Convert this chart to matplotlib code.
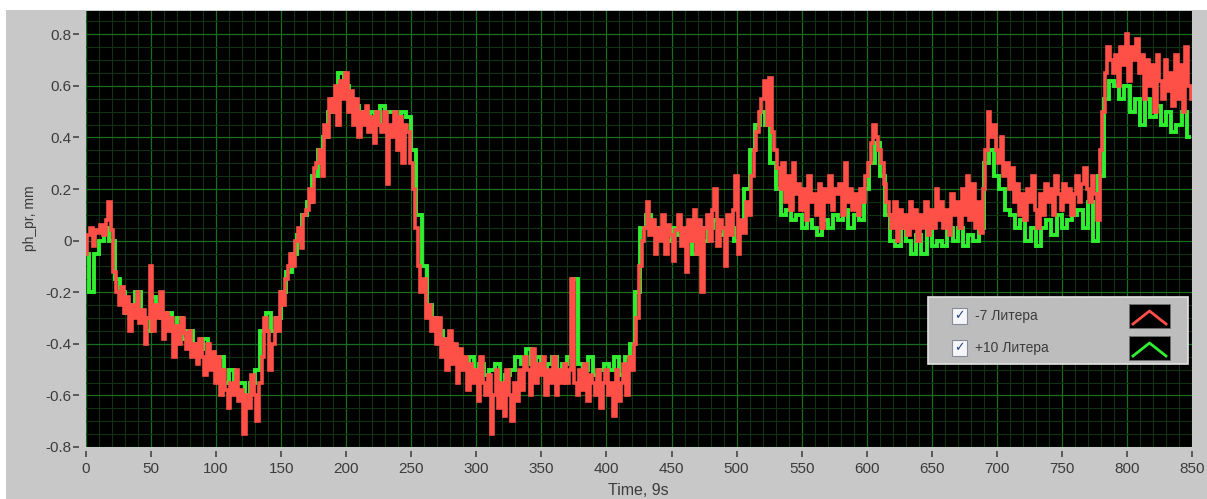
"""
Plot ph_pr displacement traces for -7 and +10 Litera (LabVIEW-style chart).
Usage: python plot.py
"""
import matplotlib
matplotlib.use("Agg")
import matplotlib.pyplot as plt
from matplotlib.patches import Rectangle
from matplotlib.ticker import MultipleLocator
import numpy as np


# sample interval of each series (in chart time units)
RED_STEP = 2
GREEN_STEP = 4

SERIES_LABELS = ["-7 Литера", "+10 Литера"]

# -7 Litera, one value every 2 units, 0..850
RED_VALUES = [
    -0.05, 0.02, 0.05, -0.02, 0.04,   0.03, 0.06, 0.02, 0.08, 0.15,
    0.04, -0.12, -0.2, -0.25, -0.18,  -0.28, -0.22, -0.35, -0.25, -0.3,
    -0.2, -0.32, -0.27, -0.4, -0.3,   -0.1, -0.35, -0.25, -0.3, -0.2,
    -0.38, -0.28, -0.35, -0.3, -0.45, -0.33, -0.4, -0.3, -0.36, -0.42,
    -0.35, -0.45, -0.4, -0.48, -0.38, -0.45, -0.52, -0.4, -0.5, -0.43,
    -0.55, -0.45, -0.6, -0.5, -0.58,  -0.65, -0.55, -0.6, -0.5, -0.62,
    -0.58, -0.75, -0.6, -0.65, -0.52, -0.6, -0.7, -0.55, -0.45, -0.3,
    -0.35, -0.5, -0.4, -0.3, -0.35,   -0.2, -0.25, -0.15, -0.1, -0.05,
    -0.1, 0.0, 0.05, -0.03, 0.1,      0.12, 0.2, 0.15, 0.28, 0.3,
    0.35, 0.25, 0.45, 0.4, 0.55,      0.5, 0.6, 0.45, 0.62, 0.55,
    0.65, 0.5, 0.58, 0.45, 0.55,      0.4, 0.5, 0.45, 0.52, 0.42,
    0.48, 0.38, 0.5, 0.45, 0.42,      0.5, 0.22, 0.45, 0.4, 0.5,
    0.35, 0.48, 0.3, 0.45, 0.42,      0.3, 0.2, 0.05, -0.1, -0.2,
    -0.15, -0.3, -0.25, -0.35, -0.3,  -0.4, -0.3, -0.45, -0.38, -0.5,
    -0.35, -0.48, -0.4, -0.55, -0.42, -0.5, -0.45, -0.58, -0.48, -0.55,
    -0.5, -0.62, -0.45, -0.55, -0.6,  -0.52, -0.75, -0.6, -0.5, -0.65,
    -0.55, -0.68, -0.5, -0.6, -0.7,   -0.55, -0.62, -0.5, -0.58, -0.45,
    -0.5, -0.6, -0.42, -0.55, -0.48,  -0.52, -0.45, -0.6, -0.5, -0.55,
    -0.45, -0.6, -0.5, -0.55, -0.48,  -0.55, -0.5, -0.15, -0.55, -0.6,
    -0.5, -0.58, -0.48, -0.62, -0.52, -0.55, -0.6, -0.5, -0.65, -0.55,
    -0.5, -0.6, -0.55, -0.68, -0.5,   -0.62, -0.55, -0.48, -0.6, -0.45,
    -0.5, -0.4, -0.3, -0.1, 0.0,      0.05, 0.15, 0.02, 0.08, -0.05,
    0.05, 0.0, 0.1, -0.05, 0.06,      0.02, -0.08, 0.04, 0.1, -0.02,
    0.05, -0.12, 0.08, 0.0, 0.12,     -0.05, 0.08, -0.2, 0.05, 0.1,
    0.0, 0.12, 0.2, -0.02, 0.08,      0.05, -0.1, 0.1, 0.02, 0.12,
    0.25, -0.05, 0.08, 0.03, 0.15,    0.1, 0.25, 0.35, 0.42, 0.5,
    0.55, 0.62, 0.45, 0.63, 0.42,     0.35, 0.28, 0.2, 0.3, 0.15,
    0.25, 0.12, 0.3, 0.18, 0.22,      0.12, 0.2, 0.08, 0.25, 0.15,
    0.18, 0.1, 0.22, 0.05, 0.2,       0.15, 0.25, 0.12, 0.2, 0.18,
    0.22, 0.1, 0.3, 0.15, 0.2,        0.12, 0.18, 0.1, 0.2, 0.15,
    0.25, 0.3, 0.38, 0.45, 0.4,       0.35, 0.3, 0.22, 0.15, 0.1,
    0.05, 0.15, 0.0, 0.12, 0.05,      0.1, 0.02, 0.15, 0.05, 0.12,
    0.0, 0.1, 0.05, 0.15, 0.02,       0.12, 0.05, 0.2, 0.08, 0.15,
    0.05, 0.12, 0.02, 0.18, 0.1,      0.15, 0.05, 0.2, 0.1, 0.25,
    0.08, 0.22, 0.05, 0.15, 0.03,     0.2, 0.35, 0.5, 0.4, 0.45,
    0.35, 0.3, 0.4, 0.25, 0.3,        0.2, 0.28, 0.15, 0.22, 0.1,
    0.18, 0.08, 0.2, 0.15, 0.25,      0.12, 0.05, 0.18, 0.1, 0.22,
    0.15, 0.2, 0.1, 0.25, 0.18,       0.12, 0.22, 0.15, 0.2, 0.1,
    0.18, 0.25, 0.15, 0.22, 0.28,     0.2, 0.15, 0.25, 0.18, 0.08,
    0.35, 0.5, 0.65, 0.75, 0.7,       0.65, 0.72, 0.6, 0.75, 0.68,
    0.8, 0.62, 0.75, 0.7, 0.78,       0.65, 0.72, 0.55, 0.7, 0.6,
    0.68, 0.5, 0.72, 0.62, 0.55,      0.7, 0.58, 0.65, 0.52, 0.72,
    0.55, 0.68, 0.5, 0.75, 0.6,       0.55,
]

# +10 Litera, one value every 4 units, 0..848
GREEN_VALUES = [
    -0.05, -0.2, -0.05, 0.0, 0.05,    0.0, -0.15, -0.2, -0.28, -0.25,
    -0.2, -0.3, -0.35, -0.22, -0.25,  -0.3, -0.28, -0.35, -0.3, -0.38,
    -0.35, -0.4, -0.42, -0.38, -0.45, -0.48, -0.45, -0.55, -0.5, -0.55,
    -0.55, -0.6, -0.55, -0.5, -0.35,  -0.28, -0.35, -0.3, -0.2, -0.12,
    -0.05, 0.02, 0.1, 0.15, 0.25,     0.35, 0.4, 0.5, 0.55, 0.65,
    0.6, 0.55, 0.52, 0.5, 0.48,       0.5, 0.45, 0.52, 0.5, 0.5,
    0.45, 0.5, 0.48, 0.35, 0.1,       -0.1, -0.25, -0.3, -0.35, -0.38,
    -0.4, -0.42, -0.45, -0.48, -0.45, -0.5, -0.48, -0.52, -0.5, -0.48,
    -0.55, -0.52, -0.5, -0.45, -0.48, -0.42, -0.48, -0.45, -0.5, -0.48,
    -0.45, -0.5, -0.48, -0.45, -0.15, -0.48, -0.5, -0.45, -0.52, -0.5,
    -0.48, -0.5, -0.45, -0.52, -0.45, -0.4, -0.2, 0.05, 0.1, 0.05,
    0.05, 0.02, 0.0, 0.05, 0.02,      0.0, 0.05, -0.05, 0.05, 0.0,
    0.05, 0.08, 0.02, 0.05, 0.05,     0.0, 0.05, 0.2, 0.35, 0.45,
    0.5, 0.45, 0.3, 0.2, 0.1,         0.12, 0.08, 0.1, 0.05, 0.08,
    0.05, 0.02, 0.08, 0.05, 0.1,      0.08, 0.12, 0.05, 0.1, 0.08,
    0.2, 0.3, 0.38, 0.25, 0.1,        0.0, -0.02, 0.05, 0.0, -0.05,
    0.02, -0.05, 0.05, -0.02, 0.0,    -0.02, 0.05, 0.0, 0.05, -0.02,
    0.02, 0.0, 0.05, 0.3, 0.35,       0.25, 0.2, 0.12, 0.1, 0.05,
    0.08, 0.0, 0.05, -0.02, 0.05,     0.08, 0.02, 0.1, 0.05, 0.08,
    0.1, 0.12, 0.05, 0.15, 0.0,       0.25, 0.55, 0.62, 0.6, 0.55,
    0.6, 0.5, 0.55, 0.45, 0.55,       0.48, 0.52, 0.45, 0.5, 0.42,
    0.45, 0.5, 0.4,
]

X_TICKS = [0, 50, 100, 150, 200, 250, 300, 350, 400, 450, 500, 550, 600,
           650, 700, 750, 800, 850]
Y_TICKS = [-0.8, -0.6, -0.4, -0.2, 0, 0.2, 0.4, 0.6, 0.8]
Y_TICK_LABELS = ["-0.8", "-0.6", "-0.4", "-0.2", "0", "0.2", "0.4", "0.6", "0.8"]

RED = "#ff5048"
GREEN = "#30ee30"
PANEL_GRAY = "#c8c8c8"
LEGEND_GRAY = "#bdbdbd"
TEXT_COLOR = "#3c3c3c"

W, H = 1207, 499


def px(x, y):
    """pixel (from top-left) -> figure fraction"""
    return x / W, 1 - y / H


def main():
    plt.rcParams["font.family"] = ["Liberation Sans", "DejaVu Sans"]
    fig = plt.figure(figsize=(W / 100, H / 100), dpi=100, facecolor="white")

    # gray panel behind the chart
    fig.patches.append(Rectangle(px(6, H), (W - 6) / W, (H - 10) / H,
                                 transform=fig.transFigure, facecolor=PANEL_GRAY,
                                 edgecolor="none", zorder=-10))

    x0, y1 = px(86, 11)
    x1, y0 = px(1192, 447)
    ax = fig.add_axes([x0, y0, x1 - x0, y1 - y0], facecolor="black")
    ax.set_zorder(1)

    t_green = np.arange(len(GREEN_VALUES)) * GREEN_STEP
    t_red = np.arange(len(RED_VALUES)) * RED_STEP
    ax.plot(t_green, GREEN_VALUES, color=GREEN, linewidth=2.8,
            drawstyle="steps-mid", solid_joinstyle="miter", zorder=3)
    ax.plot(t_red, RED_VALUES, color=RED, linewidth=2.6,
            drawstyle="steps-mid", solid_joinstyle="miter", zorder=4)

    ax.set_xlim(0, 850)
    ax.set_ylim(-0.8, 0.89)
    ax.set_xticks(X_TICKS)
    ax.set_yticks(Y_TICKS)
    ax.set_yticklabels(Y_TICK_LABELS)
    ax.xaxis.set_minor_locator(MultipleLocator(10))
    ax.yaxis.set_minor_locator(MultipleLocator(0.05))
    ax.grid(True, which="major", color="#1b6e1f", linewidth=0.9, zorder=1)
    ax.grid(True, which="minor", color="#0f3312", linewidth=0.8, zorder=1)
    ax.set_axisbelow(True)

    for side in ("top", "right"):
        ax.spines[side].set_visible(False)
    ax.spines["left"].set_position(("outward", 5))
    ax.spines["bottom"].set_position(("outward", 3))
    ax.spines["left"].set_color("none")
    ax.spines["bottom"].set_color("none")
    ax.tick_params(which="minor", length=0)
    ax.tick_params(axis="x", which="major", direction="out", length=4, width=1.3,
                   color="#505050", labelsize=11, labelcolor=TEXT_COLOR, pad=4)
    ax.tick_params(axis="y", which="major", direction="out", length=4, width=1.3,
                   color="#505050", labelsize=11, labelcolor=TEXT_COLOR, pad=1.5)

    fig.text(*px(30, 218), "ph_pr, mm", rotation=90, ha="center", va="center",
             fontsize=10, color=TEXT_COLOR)
    fig.text(*px(638, 483), "Time, 9s", ha="center", va="top",
             fontsize=11.5, color=TEXT_COLOR)

    # legend box in LabVIEW style, drawn above the axes
    lx, ly = px(928, 364)
    fig.patches.append(Rectangle((lx, ly), 260 / W, 67 / H, transform=fig.transFigure,
                                 facecolor=LEGEND_GRAY, edgecolor="#e2e2e2",
                                 linewidth=1.2, zorder=5))
    for i, (label, col) in enumerate(zip(SERIES_LABELS, [RED, GREEN])):
        cy = 316 + i * 32
        bx, by = px(952, cy + 8)
        fig.patches.append(Rectangle((bx, by), 15 / W, 16 / H, transform=fig.transFigure,
                                     facecolor="#f4f6fa", edgecolor="#8a8a9a",
                                     linewidth=0.8, zorder=6))
        fig.text(*px(959.5, cy), "\u2713", ha="center", va="center", fontsize=9,
                 color="#2a3f7a", family="DejaVu Sans", zorder=7)
        fig.text(*px(975, cy), label, ha="left", va="center", fontsize=10,
                 color=TEXT_COLOR, zorder=7)
        sx, sy = px(1129, cy + 12)
        fig.patches.append(Rectangle((sx, sy), 41 / W, 24 / H, transform=fig.transFigure,
                                     facecolor="black", edgecolor="#707070",
                                     linewidth=0.6, zorder=6))
        xs = [1133, 1149.5, 1166]
        ys = [cy + 8, cy - 5, cy + 8]
        fx = [px(a, b)[0] for a, b in zip(xs, ys)]
        fy = [px(a, b)[1] for a, b in zip(xs, ys)]
        fig.lines.append(plt.Line2D(fx, fy, transform=fig.transFigure, color=col,
                                    linewidth=2.0, zorder=8))

    fig.savefig("out.png", dpi=100, facecolor=fig.get_facecolor())
    plt.close(fig)


if __name__ == "__main__":
    main()
